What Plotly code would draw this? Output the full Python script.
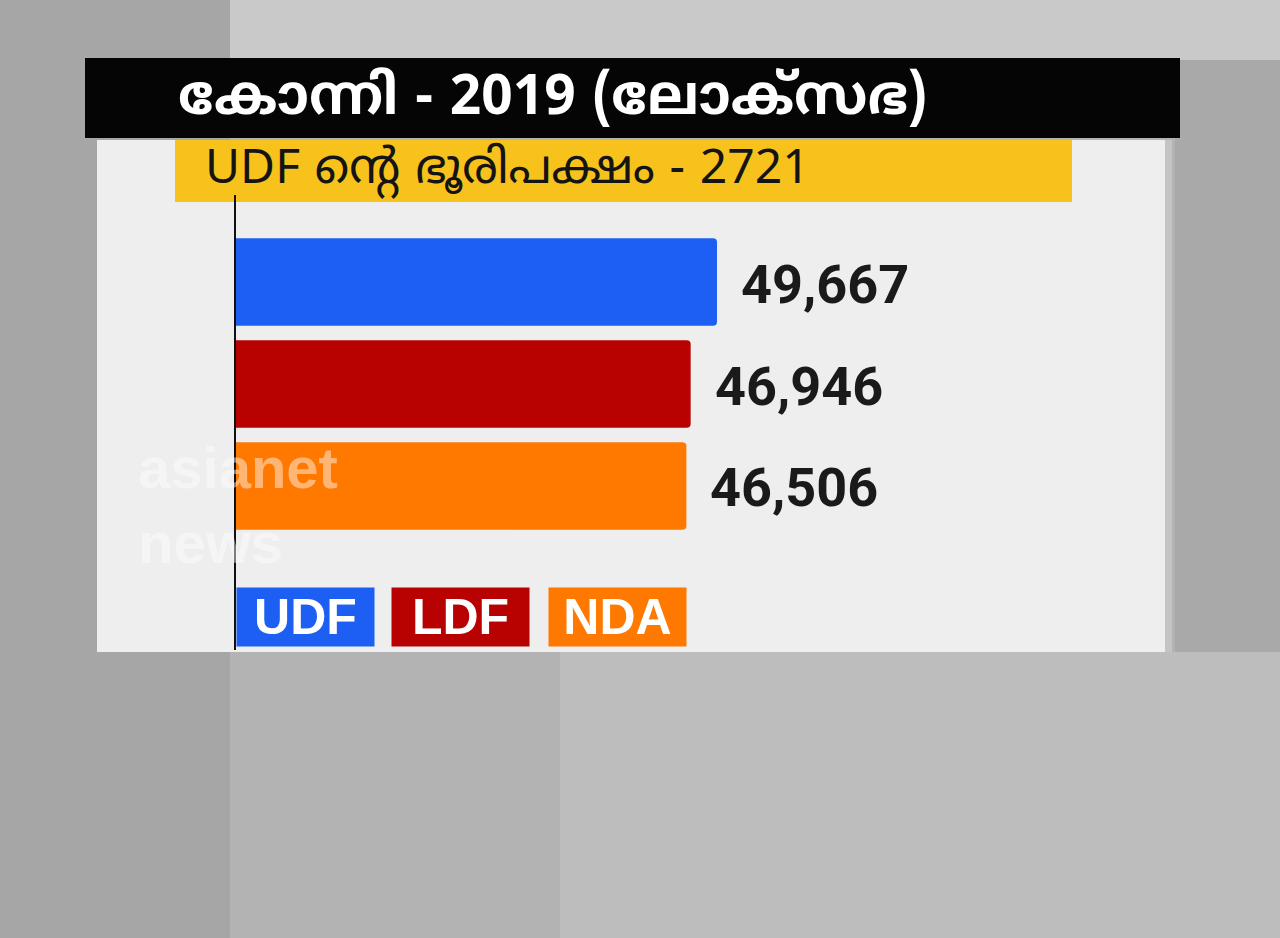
import plotly.graph_objects as go

W, H = 1280, 938

parties = ["UDF", "LDF", "NDA"]
votes = [49667, 46946, 46506]
vote_labels = ["49,667", "46,946", "46,506"]
bar_colors = ["#1c5ff2", "#b80202", "#ff7800"]
title_text = "കോന്നി - 2019 (ലോക്സഭ)"
subtitle_text = "UDF ന്റെ ഭൂരിപക്ഷം - 2721"


def px(x):
    return x / W


def py(y):
    return 1 - y / H


def rect(x0, y0, x1, y1, color, opacity=1.0):
    return dict(type="rect", xref="paper", yref="paper", layer="below",
                x0=px(x0), x1=px(x1), y0=py(y1), y1=py(y0),
                fillcolor=color, line_width=0, opacity=opacity)


fig = go.Figure()
fig.add_trace(go.Bar(
    x=votes, y=parties, orientation="h",
    marker=dict(color=bar_colors, line_width=0, cornerradius=4),
    width=0.86, hoverinfo="skip",
))

# value labels to the right of each bar
for p, v, lab in zip(parties, votes, vote_labels):
    fig.add_annotation(x=v, y=p, xref="x", yref="y", text=lab, showarrow=False,
                       xanchor="left", xshift=22, yshift=-2,
                       font=dict(family="Roboto, sans-serif",
                                 size=54, color="#1a1a1a", weight="bold"))

# legend boxes under the bars
legend_x = [236, 391, 548]
for p, c, lx in zip(parties, bar_colors, legend_x):
    fig.add_annotation(x=px(lx), y=py(587), xref="paper", yref="paper", text=p,
                       showarrow=False, xanchor="left", yanchor="top",
                       width=137, height=58, bgcolor=c, borderpad=0,
                       font=dict(family="Liberation Sans, Arial, sans-serif",
                                 size=50, color="white", weight="bold"))

# header texts
fig.add_annotation(x=px(176), y=py(100), xref="paper", yref="paper", text=title_text,
                   showarrow=False, xanchor="left", yanchor="middle",
                   font=dict(family="Noto Sans Malayalam, Noto Sans, sans-serif",
                             size=55, color="white", weight="bold"))
fig.add_annotation(x=px(203), y=py(172), xref="paper", yref="paper", text=subtitle_text,
                   showarrow=False, xanchor="left", yanchor="middle",
                   font=dict(family="Noto Sans Malayalam, Noto Sans, sans-serif",
                             size=48, color="#141414"))

# faint channel watermark
fig.add_annotation(x=px(136), y=py(505), xref="paper", yref="paper",
                   text="asianet<br>news", align="left",
                   showarrow=False, xanchor="left", yanchor="middle", opacity=0.45,
                   font=dict(family="Liberation Sans, Arial, sans-serif", size=58,
                             color="white", weight="bold"))

shapes = [
    rect(0, 0, W, 60, "#c9c9c9"),
    rect(0, 0, 230, 938, "#a6a6a6"),
    rect(560, 652, W, 938, "#bdbdbd"),
    rect(1175, 60, W, 652, "#a9a9a9"),
    rect(97, 140, 1170, 652, "#eeeeee"),
    rect(1165, 140, 1172, 652, "#c4c4c4"),
    rect(85, 58, 1180, 138, "#050505"),
    rect(175, 140, 1072, 202, "#f7c21c"),
]
fig.update_layout(
    width=W, height=H,
    margin=dict(l=0, r=0, t=0, b=0),
    paper_bgcolor="#b3b3b3", plot_bgcolor="rgba(0,0,0,0)",
    showlegend=False, shapes=shapes,
    xaxis=dict(domain=[px(236), px(1170)], range=[0, 96440], visible=False,
               fixedrange=True),
    yaxis=dict(domain=[py(650), py(195)], range=[3.608, -0.853],
               showticklabels=False, showgrid=False, zeroline=False,
               showline=True, linecolor="#111111", linewidth=2, ticks="",
               fixedrange=True),
)

fig.write_html("out.html", config={"displayModeBar": False},
               post_script="document.body.style.margin='0px';")
